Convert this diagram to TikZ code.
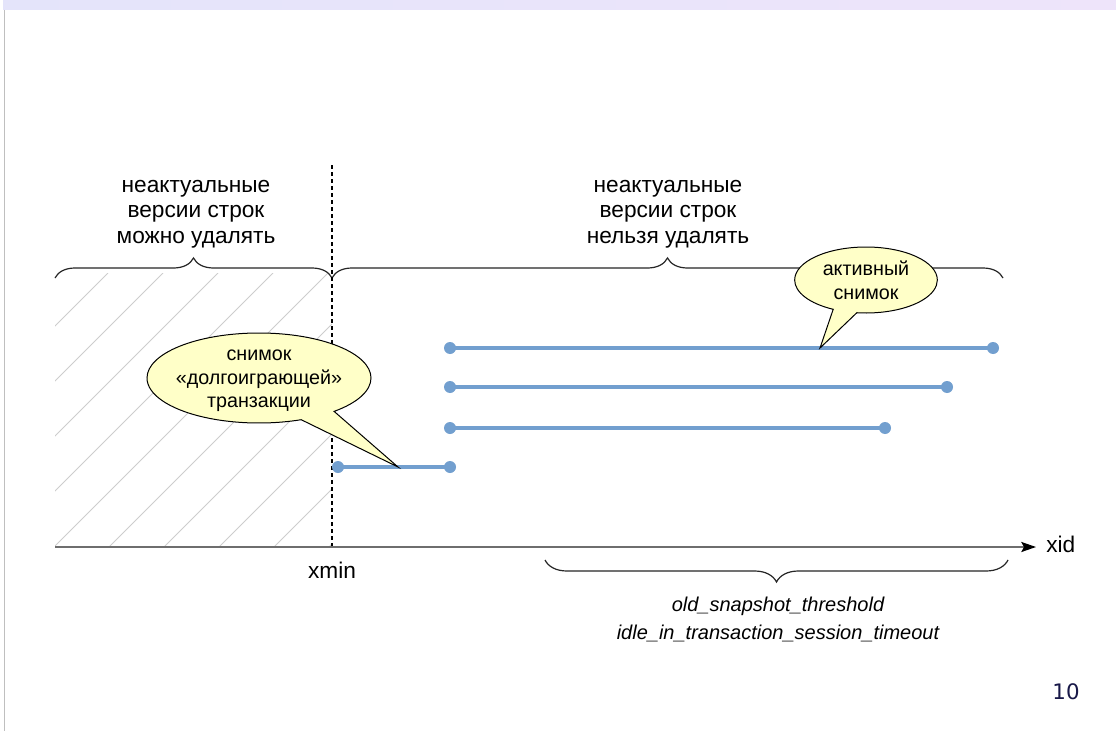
\documentclass[tikz,border=0pt]{standalone}
\usepackage{fontspec}
\setmainfont{Liberation Sans}
\newfontfamily\numfont{DejaVu Sans}
\usetikzlibrary{shapes.callouts,decorations.pathreplacing,arrows.meta}
\definecolor{segblue}{RGB}{114,159,207}
\definecolor{callfill}{RGB}{255,255,200}
\definecolor{barA}{RGB}{228,228,250}
\definecolor{barB}{RGB}{238,228,250}
\definecolor{hatchgray}{RGB}{205,205,205}
\definecolor{axisgray}{RGB}{110,110,110}
\definecolor{pagenum}{RGB}{24,24,72}
\begin{document}
\begin{tikzpicture}[x=0.75pt,y=-0.75pt,
  seg/.style={line width=2.6pt, draw=segblue},
  dot/.style={circle, fill=segblue, inner sep=0pt, minimum size=9pt},
  callbox/.style={ellipse callout, draw=black, line width=0.75pt, fill=callfill, inner sep=0pt, callout pointer arc=20},
  bracetop/.style={decorate, decoration={brace, amplitude=15pt}, line width=0.9pt, draw=black!85},
  bracebot/.style={decorate, decoration={brace, amplitude=16.5pt}, line width=0.9pt, draw=black!85},
  lbl/.style={font=\fontsize{17}{19.2}\selectfont, align=center, inner sep=0pt},
  calltext/.style={font=\fontsize{14.8}{17.8}\selectfont, align=center, inner sep=0pt},
  hatch/.style={draw=hatchgray, line width=0.75pt},
  axis/.style={draw=axisgray, line width=1.5pt, -{Stealth[black,length=11pt,width=7.5pt,inset=2pt]}},
  dotline/.style={draw=black, line width=2pt, dash pattern=on 3pt off 2.25pt},
  param/.style={font=\fontsize{15}{21}\selectfont\itshape, align=center, inner sep=0pt}
]
\useasboundingbox (0,0) rectangle (1116,731);
\fill[white] (0,0) rectangle (1116,731);
% top bar and left border
\shade[left color=barA, right color=barB] (3,0) rectangle (1116,10);
\draw[draw=black!25, line width=0.75pt] (4,10) -- (4,731);

% hatched region
\begin{scope}
  \clip (55,273) rectangle (332,547);
  \foreach \c in {326,381,...,876} {
    \draw[hatch] (\c-273,273) -- (\c-547,547);
  }
\end{scope}

% braces
\coordinate (bl1) at (55,278);
\coordinate (bl2) at (332,278);
\coordinate (br2) at (1003,278);
\draw[bracetop] (bl1) -- (bl2);
\draw[bracetop] (bl2) -- (br2);
\coordinate (bb1) at (1008,560);
\coordinate (bb2) at (545,560);
\draw[bracebot] (bb1) -- (bb2);

% brace labels
\node[lbl] (tl) at (196,214) {неактуальные\\версии строк\\можно удалять};
\node[lbl] (tr) at (668,214) {неактуальные\\версии строк\\нельзя удалять};
\node[param] (pb) at (778,619) {old\_snapshot\_threshold\\idle\_in\_transaction\_session\_timeout};

% xmin dotted line
\coordinate (xm1) at (332,165);
\coordinate (xm2) at (332,547);
\draw[dotline] (xm1) -- (xm2);

% axis
\coordinate (ax1) at (55,547);
\coordinate (ax2) at (1036,547);
\draw[axis] (ax1) -- (ax2);
\node[font=\fontsize{17}{19.2}\selectfont, anchor=base west, inner sep=0pt] (xid) at (1046,552) {xid};
\node[font=\fontsize{17}{19.2}\selectfont, anchor=base, inner sep=0pt] (xmin) at (332,578) {xmin};

% snapshot segments
\node[dot] (s1a) at (450,348) {};
\node[dot] (s1b) at (993,348) {};
\node[dot] (s2a) at (450,387) {};
\node[dot] (s2b) at (947,387) {};
\node[dot] (s3a) at (450,428) {};
\node[dot] (s3b) at (885,428) {};
\node[dot] (s4a) at (338,467) {};
\node[dot] (s4b) at (450,467) {};
\draw[seg] (s1a.center) -- (s1b.center);
\draw[seg] (s2a.center) -- (s2b.center);
\draw[seg] (s3a.center) -- (s3b.center);
\draw[seg] (s4a.center) -- (s4b.center);

% callouts
\coordinate (p1) at (398,467);
\coordinate (p2) at (820,348);
\node[callbox, minimum width=168pt, minimum height=67.5pt, callout absolute pointer={(p1)}] (c1) at (259,378) {};
\node[calltext] (c1t) at (259,381) {снимок\\«долгоиграющей»\\транзакции};
\node[callbox, minimum width=107pt, minimum height=49.5pt, callout absolute pointer={(p2)}] (c2) at (866,280) {};
\node[calltext] (c2t) at (866,280) {активный\\снимок};

% page number
\node[font=\numfont\fontsize{16}{19}\selectfont, text=pagenum, inner sep=0pt] (pg) at (1066,692) {10};
\end{tikzpicture}
\end{document}
